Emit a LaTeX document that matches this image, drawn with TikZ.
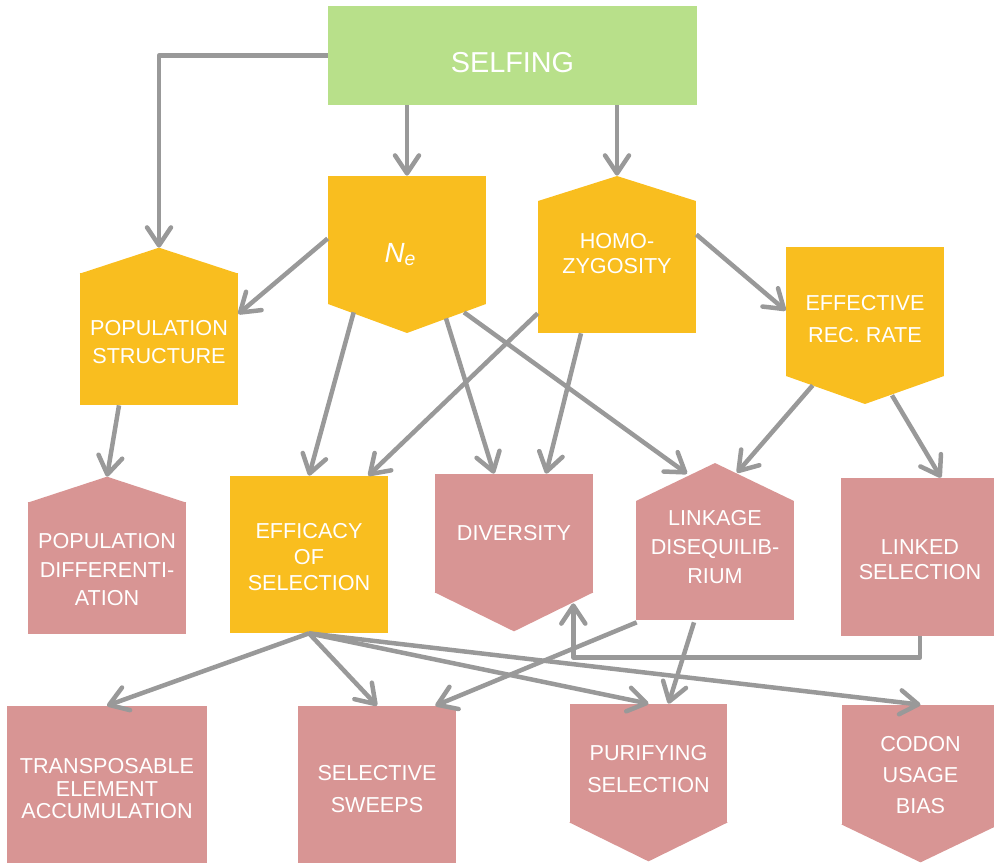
\documentclass[tikz,border=0pt]{standalone}
\usepackage{fontspec}
\setmainfont{Liberation Sans}
\usetikzlibrary{arrows.meta,calc}

\definecolor{selfgreen}{HTML}{B8E08A}
\definecolor{causeyellow}{HTML}{F9BE1F}
\definecolor{effectpink}{HTML}{D89594}
\definecolor{arrowgrey}{HTML}{999999}

\tikzset{
  box/.style={minimum width=3.16cm, minimum height=#1, inner sep=0pt, text=white, align=center},
  lines/.style={font=\fontsize{12.3}{#1}\selectfont},
  arr/.style={draw=arrowgrey, line width=0.09cm, line join=round,
    -{Straight Barb[length=0.36cm,width=0.48cm,round]}},
  % pentagon inside the node box, point at the bottom
  tipdown/.style 2 args={path picture={\fill[#1] (path picture bounding box.north west)
    -- (path picture bounding box.north east) -- ([yshift=#2]path picture bounding box.south east)
    -- (path picture bounding box.south) -- ([yshift=#2]path picture bounding box.south west) -- cycle;}},
  % pentagon inside the node box, point at the top
  tipup/.style 2 args={path picture={\fill[#1] (path picture bounding box.south west)
    -- (path picture bounding box.south east) -- ([yshift=-#2]path picture bounding box.north east)
    -- (path picture bounding box.north) -- ([yshift=-#2]path picture bounding box.north west) -- cycle;}}
}

\begin{document}
\begin{tikzpicture}[x=0.02cm, y=-0.02cm]
  \useasboundingbox (0,0) rectangle (994,863);

  % top row
  \node[box=1.98cm, minimum width=7.38cm, fill=selfgreen, font=\fontsize{16.4}{20}\selectfont,
    text height=19pt, text depth=0pt] (selfing) at (512.5,55.5) {SELFING};
  \node[box=3.14cm, tipdown={causeyellow}{0.58cm}, font=\fontsize{15.8}{19}\selectfont] (ne) at (407,254.5)
    {\textit{N}\textsubscript{\textit{e}}\hspace{0.26cm}};
  \node[box=3.14cm, tipup={causeyellow}{0.5cm}, lines=14.2pt, text depth=0.06cm] (homo) at (617,254.5) {HOMO-\\ZYGOSITY};
  \node[box=3.14cm, tipdown={causeyellow}{0.56cm}, lines=18.1pt, text depth=0.26cm] (eff) at (865,325.5) {EFFECTIVE\\REC. RATE};
  \node[box=2.64cm, fill=causeyellow, lines=15.9pt, text height=27.8pt] (popstruct) at (159,339) {POPULATION\\STRUCTURE};
  \fill[causeyellow] ($(popstruct.north west)+(0,1)$) -- ($(popstruct.north)+(0,-25)$)
    -- ($(popstruct.north east)+(0,1)$) -- cycle;
  \coordinate (popstruct tip) at ($(popstruct.north)+(0,-25)$);

  % middle row
  \node[box=2.64cm, fill=effectpink, lines=16.2pt, text height=43.2pt] (popdiff) at (107,568) {POPULATION\\DIFFERENTI-\\ATION};
  \fill[effectpink] ($(popdiff.north west)+(0,1)$) -- ($(popdiff.north)+(0,-25)$)
    -- ($(popdiff.north east)+(0,1)$) -- cycle;
  \coordinate (popdiff tip) at ($(popdiff.north)+(0,-25)$);
  \node[box=3.14cm, fill=causeyellow, lines=14.7pt, text height=40.8pt] (efficacy) at (309,554.5) {EFFICACY\\OF\\SELECTION};
  \node[box=2.38cm, fill=effectpink, lines=15pt] (diversity) at (514,533.5) {DIVERSITY};
  \fill[effectpink] ($(diversity.south west)+(0,-1)$) -- ($(diversity.south)+(0,38)$)
    -- ($(diversity.south east)+(0,-1)$) -- cycle;
  \node[box=3.14cm, tipup={effectpink}{0.76cm}, lines=16.7pt, text height=48.2pt] (linkage) at (715,541.5) {LINKAGE\\DISEQUILIB-\\RIUM};
  \node[box=3.16cm, fill=effectpink, lines=14.2pt, text height=25.6pt] (linked) at (920,557) {LINKED\\SELECTION};

  % bottom row
  \node[box=3.14cm, minimum width=4cm, fill=effectpink, lines=12.8pt, text height=39.2pt] (transposable) at (107,784.5)
    {TRANSPOSABLE\\ELEMENT\\ACCUMULATION};
  \node[box=3.14cm, fill=effectpink, lines=18.1pt, text height=31.7pt] (sweeps) at (377,784.5) {SELECTIVE\\SWEEPS};
  \node[box=2.38cm, fill=effectpink, lines=18.1pt, text height=32.9pt] (purifying) at (648.5,763.5) {PURIFYING\\SELECTION};
  \fill[effectpink] ($(purifying.south west)+(0,-1)$) -- ($(purifying.south)+(0,38)$)
    -- ($(purifying.south east)+(0,-1)$) -- cycle;
  \node[box=2.4cm, fill=effectpink, lines=17.6pt, text height=55.6pt] (codon) at (920.5,765) {CODON\\USAGE\\BIAS};
  \fill[effectpink] ($(codon.south west)+(0,-1)$) -- ($(codon.south)+(0,37)$)
    -- ($(codon.south east)+(0,-1)$) -- cycle;

  % arrows
  \draw[arr] (selfing.west) -| (popstruct tip);
  \draw[arr] (ne.north |- selfing.south) -- (ne.north);
  \draw[arr] (homo.north |- selfing.south) -- (homo.north);
  \draw[arr] ($(ne.west)+(0,-16)$) -- ($(popstruct.east)+(0,-25)$);
  \draw[arr] ($(homo.east)+(0,-20)$) -- ($(eff.west)+(0,-15)$);
  \draw[arr] ($(ne.south west)+(26,-21)$) -- (efficacy.north);
  \draw[arr] ($(homo.south west)+(0,-20)$) -- ($(efficacy.north east)+(-20,0)$);
  \draw[arr] ($(ne.south)+(39,-15)$) -- ($(diversity.north)+(-20,0)$);
  \draw[arr] ($(homo.south)+(-36,0)$) -- ($(diversity.north)+(32,0)$);
  \draw[arr] ($(ne.south)+(57,-21)$) -- ($(linkage.north)+(-28,11)$);
  \draw[arr] ($(eff.south west)+(27,-19)$) -- ($(linkage.north)+(22,10)$);
  \draw[arr] ($(eff.south)+(27,-9)$) -- ($(linked.north)+(21,0)$);
  \draw[arr] ($(popstruct.south)+(-40,0)$) -- (popdiff tip);
  \draw[arr] (linked.south) -- ++(0,21) -| ($(diversity.south east)+(-20,10)$);
  \foreach \target in {transposable, sweeps, purifying, codon}
    \draw[arr] (efficacy.south) -- (\target.north);
  \draw[arr] ($(linkage.south west)+(1,2)$) -- ($(sweeps.north east)+(-21,0)$);
  \draw[arr] ($(linkage.south)+(-21,2)$) -- ($(purifying.north)+(20,0)$);
\end{tikzpicture}
\end{document}
